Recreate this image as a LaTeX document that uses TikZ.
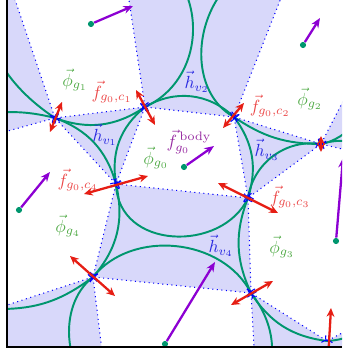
\documentclass[tikz,border=0pt]{standalone}
\usepackage{amsmath}
\usepackage{tikz}
\usetikzlibrary{arrows.meta, calc}
\definecolor{grainc}{RGB}{0,150,110}
\definecolor{phic}{RGB}{80,170,70}
\definecolor{forcec}{RGB}{230,30,20}
\definecolor{flabel}{RGB}{235,70,70}
\definecolor{hc}{RGB}{40,40,225}
\definecolor{bodyc}{RGB}{140,0,210}
\definecolor{bodylabel}{RGB}{150,40,160}
\definecolor{voidc}{RGB}{216,216,250}

\tikzset{
  void/.style={fill=voidc},
  rim/.style={grainc, line width=1.1pt},
  branch/.style={blue, dotted, line width=0.6pt, {To[length=2.5pt,width=5pt]}-{To[length=2.5pt,width=5pt]}},
  force/.style={forcec, line width=1.3pt, {Stealth[length=5pt,width=4.5pt]}-{Stealth[length=5pt,width=4.5pt]}},
  bodyforce/.style={bodyc, line width=1.3pt, -{Stealth[length=5.5pt,width=4.5pt]}},
  gdot/.style={circle, fill=grainc, inner sep=0pt, minimum size=3.5pt},
  lbl/.style={inner sep=0.5pt},
}

\begin{document}
\begin{tikzpicture}[x=0.2mm, y=-0.2mm]
    \useasboundingbox (0,0) rectangle (342,356);

    % --- Contacts ---
    \coordinate (c14) at (55,118);
    \coordinate (c1) at (145,107);
    \coordinate (c2) at (234,117);
    \coordinate (c23) at (321,144);
    \coordinate (c4) at (116,184);
    \coordinate (c3) at (248,198);
    \coordinate (c4b) at (93,277);
    \coordinate (c3b) at (251,293);
    \coordinate (c3r) at (327,341);
    % poza kadrem
    \coordinate (x14u) at (5,-30);
    \coordinate (x14l) at (-90,158);
    \coordinate (x1u) at (120,-60);
    \coordinate (x2u) at (300,-50);
    \coordinate (x23u) at (357,74);
    \coordinate (x23r) at (384,159);
    \coordinate (x4bl) at (-5,309);
    \coordinate (x4bd) at (108,400);
    \coordinate (x3bd) at (257,400);
    \coordinate (x3rr) at (372,317);

    \begin{scope}
        \clip (7,0) rectangle (342,347);

        % --- Voids ---
        \fill[void] (x14u) -- (c14) -- (x14l) -- (-90,-35) -- cycle;
        \fill[void] (c14) -- (c1) -- (c4) -- cycle;
        \fill[void] (c1) -- (x1u) -- (x2u) -- (c2) -- cycle;
        \fill[void] (c2) -- (c23) -- (c3) -- cycle;
        \fill[void] (c23) -- (x23u) -- (x23r) -- cycle;
        \fill[void] (c4) -- (c3) -- (c3b) -- (c4b) -- cycle;
        \fill[void] (c4b) -- (x4bl) -- (-50,400) -- (x4bd) -- cycle;
        \fill[void] (c3b) -- (c3r) -- (x3rr) -- (380,400) -- (x3bd) -- cycle;

        % --- Grain rims ---
        \draw[rim] (c14) to[bend right=27] (c1);
        \draw[rim] (c14) to[bend left=27] (c4);
        \draw[rim] (c1) to[bend right=30] (c4);
        \draw[rim] (c1) to[bend left=37] (c2);
        \draw[rim] (c2) to[bend left=27] (c3);
        \draw[rim] (c4) .. controls (118,250) and (222,253) .. (c3);
        \draw[rim] (c4b) to[bend left=57] (c3b);
        \draw[rim] (c4) to[bend left=27] (c4b);
        \draw[rim] (c3) to[bend right=23] (c3b);
        \draw[rim] (c2) to[bend right=17] (c23);
        \draw[rim] (c23) to[bend right=45] (c3);
        \draw[rim] (c3b) to[bend right=25] (c3r);
        \draw[rim] (c3b) to[bend left=35] (x3bd);
        \draw[rim] (c4b) to[bend right=59] (x4bd);
        \draw[rim] (c4b) to[bend left=19] (x4bl);
        \draw[rim] (c14) to[bend right=30] (x14l);
        \draw[rim] (c14) .. controls (20,95) and (-40,40) .. (x14u);
        \draw[rim] (c1) .. controls (215,75) and (210,-40) .. (x1u);
        \draw[rim] (c2) .. controls (175,85) and (195,-40) .. (x2u);
        \draw[rim] (c23) .. controls (345,140) and (380,110) .. (x23u);
        \draw[rim] (c23) to[bend left=30] (x23r);
        \draw[rim] (c3r) to[bend right=25] (x3rr);

        % --- Branch vectors ---
        \foreach \a/\b in {c14/c1, c14/c4, c1/c4, c1/c2, c2/c3, c4/c3, c4b/c3b, c4/c4b, c3/c3b, c2/c23, c23/c3, c3b/c3r,
                           c3b/x3bd, c4b/x4bd, c4b/x4bl, c14/x14l, c14/x14u, c1/x1u, c2/x2u, c23/x23u, c23/x23r, c3r/x3rr}
            \draw[branch] (\a) -- (\b);

        % --- Contact forces ---
        \foreach \c/\dx/\dy/\ex/\ey in {c14/7/-16/-5/14, c1/-9/-17/10/18, c2/10/-14/-11/11, c23/0/-8/0/8,
                                        c4/32/-8/-32/10, c3/-30/-15/30/15, c4b/-23/-21/22/19, c3b/22/-12/-20/12, c3r/4/-33/1/19}
            \draw[force] ($(\c)+(\dx,\dy)$) -- ($(\c)+(\ex,\ey)$);

        % --- Body forces ---
        \foreach \n/\x/\y/\u/\v in {g1/91/24/133/6, g2/303/45/320/18, g0/184/167/214/146,
                                    g4/19/210/50/172, gb/165/344/215/262, g3/336/241/343/158}{
            \node[gdot] (m\n) at (\x,\y) {};
            \coordinate (t\n) at (\u,\v);
            \draw[bodyforce] (m\n) -- (t\n);
        }
    \end{scope}

    % --- Labels ---
    \node[lbl, text=phic] (lg1) at (75,80) {$\vec{\phi}_{g_1}$};
    \node[lbl, text=phic] (lg2) at (310,99) {$\vec{\phi}_{g_2}$};
    \node[lbl, text=phic] (lg0) at (156,158) {$\vec{\phi}_{g_0}$};
    \node[lbl, text=phic] (lg4) at (68,226) {$\vec{\phi}_{g_4}$};
    \node[lbl, text=phic] (lg3) at (282,247) {$\vec{\phi}_{g_3}$};
    \node[lbl, text=flabel] (lc1) at (112,92) {$\vec{f}_{g_0,c_1}$};
    \node[lbl, text=flabel] (lc2) at (270,106) {$\vec{f}_{g_0,c_2}$};
    \node[lbl, text=flabel] (lc3) at (290,197) {$\vec{f}_{g_0,c_3}$};
    \node[lbl, text=flabel] (lc4) at (78,180) {$\vec{f}_{g_0,c_4}$};
    \node[lbl, text=hc] (lv1) at (105,135) {$\vec{h}_{v_1}$};
    \node[lbl, text=hc] (lv2) at (197,82) {$\vec{h}_{v_2}$};
    \node[lbl, text=hc] (lv3) at (267,150) {$\vec{h}_{v_3}$};
    \node[lbl, text=hc] (lv4) at (221,246) {$\vec{h}_{v_4}$};
    \node[lbl, text=bodylabel] (lbody) at (189,142) {$\vec{f}^{\,\mathrm{body}}_{g_0}$};

    % --- Frame ---
    \draw[line width=1pt] (7,0) -- (7,347) -- (342,347);
\end{tikzpicture}
\end{document}
